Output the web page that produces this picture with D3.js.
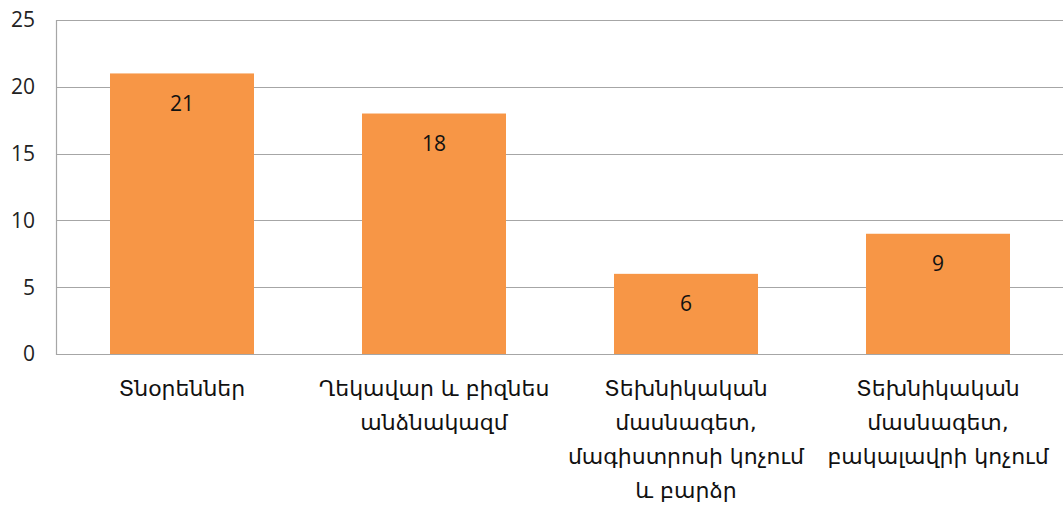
<!DOCTYPE html>
<html><head><meta charset="utf-8">
<script src="https://cdn.jsdelivr.net/npm/d3@7"></script>
<style>html,body{margin:0;padding:0;background:#fff;}svg{display:block;}</style>
</head><body>
<svg id="c" width="1063" height="508"></svg>
<script>
const categories = [
  ["Տնօրեններ"],
  ["Ղեկավար և բիզնես", "անձնակազմ"],
  ["Տեխնիկական", "մասնագետ,", "մագիստրոսի կոչում", "և բարձր"],
  ["Տեխնիկական", "մասնագետ,", "բակալավրի կոչում"]
];
const values = [21, 18, 6, 9];
const yTicks = [0, 5, 10, 15, 20, 25];

(function () {
const svg = d3.select("#c");
const mLeft = 56, mRight = 1064, mTop = 20, mBottom = 354;
const x = d3.scaleBand().domain(d3.range(categories.length)).range([mLeft, mRight]).paddingInner(0.4286).paddingOuter(0.2143);
const y = d3.scaleLinear().domain([0, 25]).range([mBottom, mTop]);

const grid = svg.append("g");
grid.selectAll("line").data(yTicks).join("line")
  .attr("x1", mLeft).attr("x2", 1063)
  .attr("y1", d => Math.round(y(d)) + 0.5).attr("y2", d => Math.round(y(d)) + 0.5)
  .attr("stroke", "#a6a6a6").attr("stroke-width", 1.2);
svg.append("line").attr("x1", mLeft + 0.5).attr("x2", mLeft + 0.5).attr("y1", mTop).attr("y2", mBottom + 1)
  .attr("stroke", "#a6a6a6").attr("stroke-width", 1.2);

svg.append("g").selectAll("text").data(yTicks).join("text")
  .attr("x", 35).attr("y", d => y(d)).attr("dy", "0.35em")
  .attr("text-anchor", "end").attr("font-family", "'Open Sans', sans-serif").attr("font-size", 21)
  .attr("fill", "#222").text(d => d);

svg.append("g").selectAll("rect").data(values).join("rect")
  .attr("x", (d, i) => x(i)).attr("width", x.bandwidth())
  .attr("y", d => y(d)).attr("height", d => y(0) - y(d))
  .attr("fill", "#f79646");

svg.append("g").selectAll("text").data(values).join("text")
  .attr("x", (d, i) => x(i) + x.bandwidth() / 2).attr("y", d => y(d) + 30).attr("dy", "0.35em")
  .attr("text-anchor", "middle").attr("font-family", "'Open Sans', sans-serif").attr("font-size", 21)
  .attr("fill", "#111").text(d => d);

const lab = svg.append("g").selectAll("text").data(categories).join("text")
  .attr("text-anchor", "middle").attr("font-family", "'DejaVu Sans', sans-serif").attr("font-size", 22)
  .attr("fill", "#111");
lab.each(function(lines, i) {
  d3.select(this).selectAll("tspan").data(lines).join("tspan")
    .attr("x", x(i) + x.bandwidth() / 2).attr("y", (l, j) => 388 + j * 34).attr("dy", "0.35em")
    .text(l => l);
});
})();
</script>
</body></html>
